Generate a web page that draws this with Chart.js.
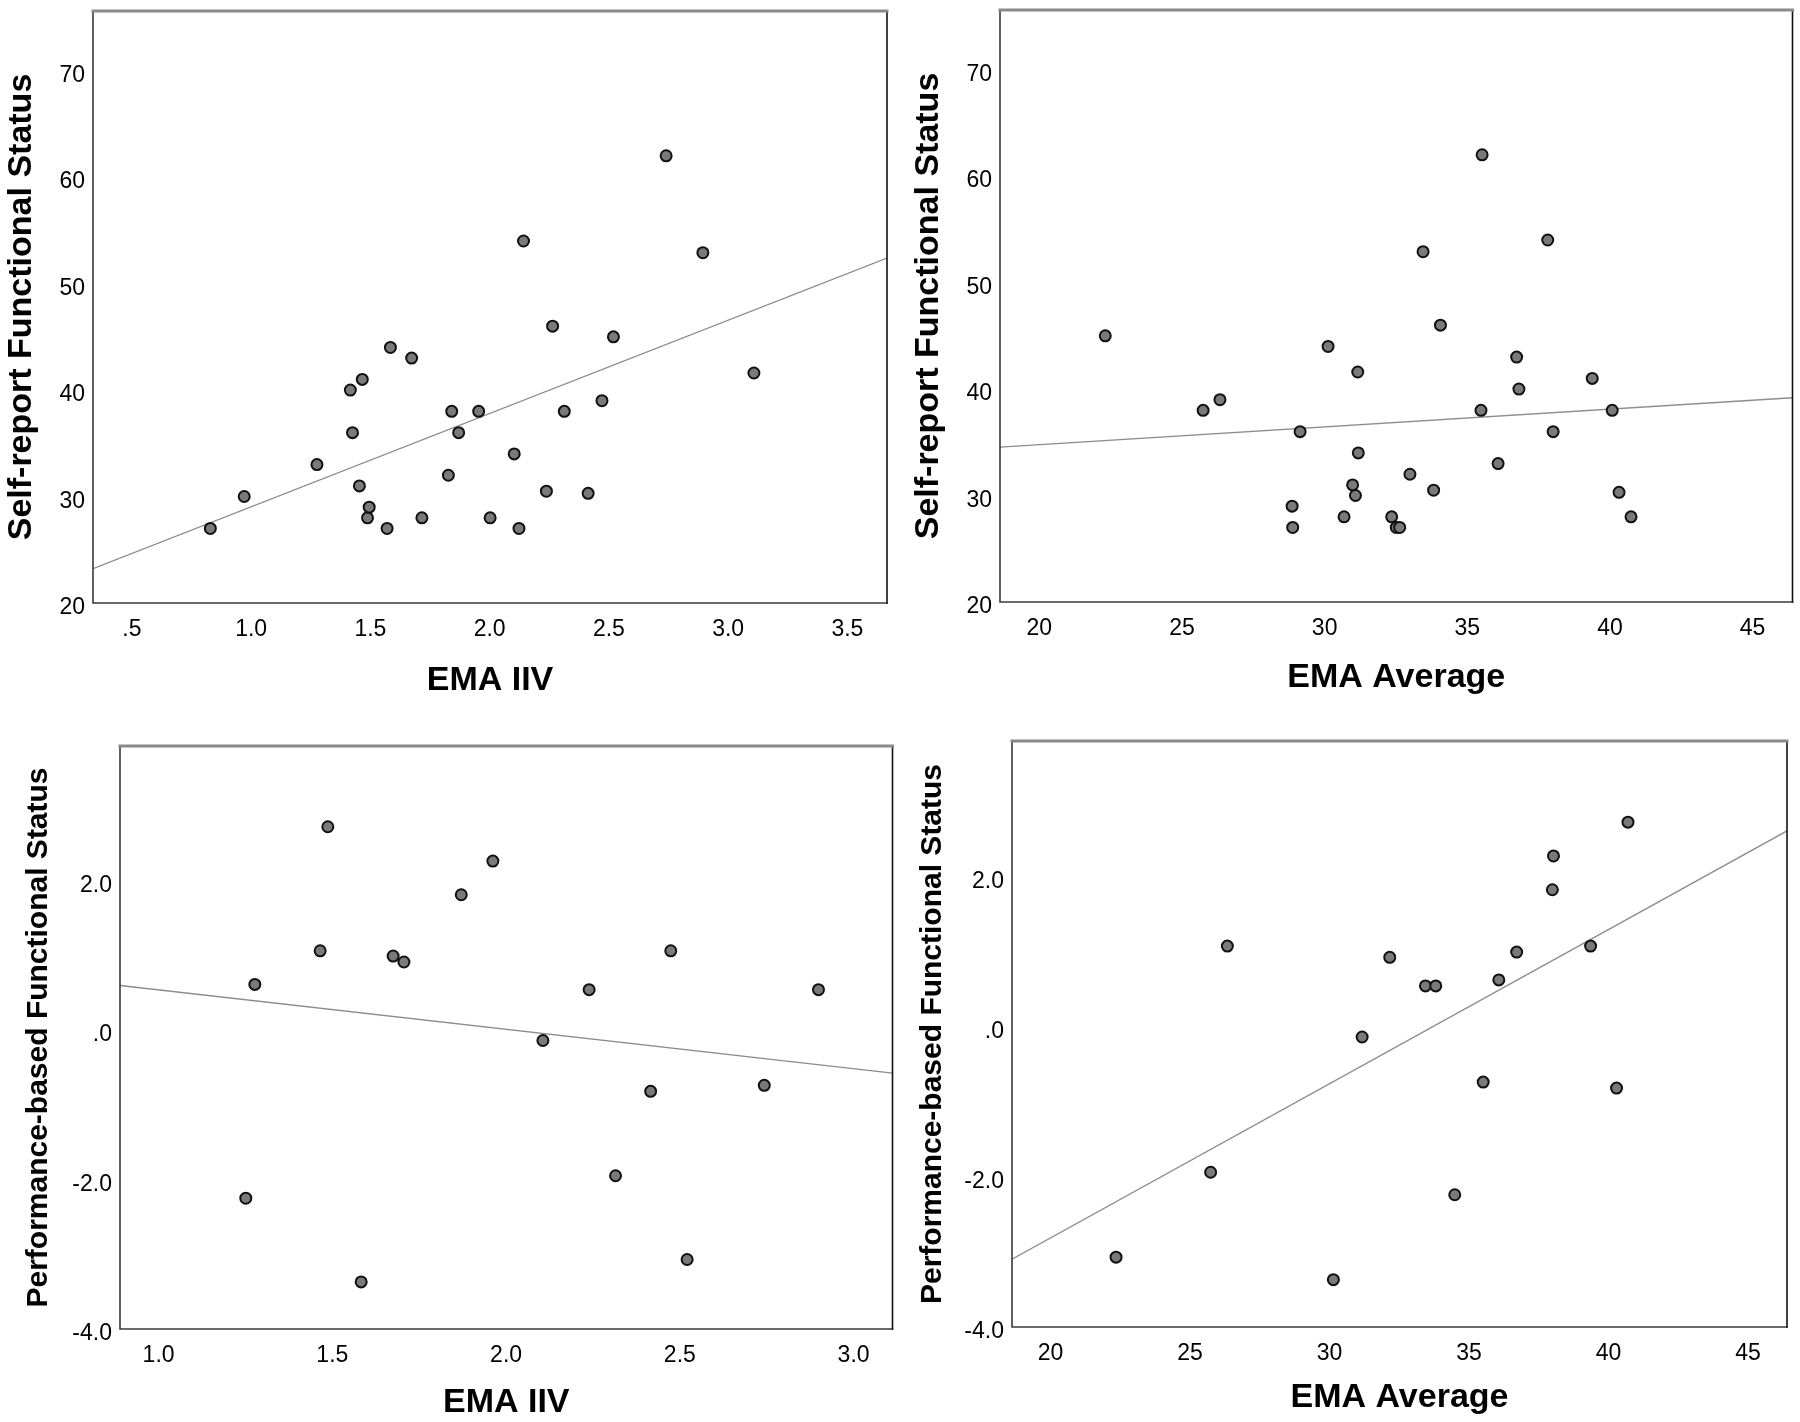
<!DOCTYPE html>
<html>
<head>
<meta charset="utf-8">
<script src="https://cdn.jsdelivr.net/npm/chart.js@4.4.1/dist/chart.umd.min.js"></script>
<style>
  html, body { margin: 0; padding: 0; background: #fff; }
  body { width: 1800px; height: 1422px; position: relative; overflow: hidden; }
  .panel { position: absolute; }
</style>
</head>
<body>
<div class="panel" style="left:0;top:0;width:900px;height:711px"><canvas id="c1"></canvas></div>
<div class="panel" style="left:900px;top:0;width:900px;height:711px"><canvas id="c2"></canvas></div>
<div class="panel" style="left:0;top:720px;width:900px;height:702px"><canvas id="c3"></canvas></div>
<div class="panel" style="left:900px;top:720px;width:900px;height:702px"><canvas id="c4"></canvas></div>
<script>
// panel 1: EMA IIV vs self-report (n = 30)
const emaIivA = [0.829, 0.971, 1.276, 1.416, 1.425, 1.454, 1.466, 1.488, 1.495, 1.570,
                 1.584, 1.673, 1.716, 1.827, 1.841, 1.870, 1.954, 2.002, 2.103, 2.123,
                 2.142, 2.238, 2.264, 2.313, 2.413, 2.471, 2.519, 2.740, 2.894, 3.108];
const selfReportA = [27, 30, 33, 40, 36, 31, 41, 28, 29, 27,
                     44, 43, 28, 32, 38, 36, 38, 28, 34, 27,
                     54, 30.5, 46, 38, 30.3, 39, 45, 62, 52.9, 41.6];

// panel 2: EMA average vs self-report
const emaAvgB = [22.31, 25.74, 26.33, 28.86, 28.88, 29.14, 30.12, 30.68, 30.98, 31.08,
                 31.16, 31.18, 32.35, 32.51, 32.63, 32.99, 33.45, 33.82, 34.06, 35.48,
                 35.52, 36.08, 36.73, 36.81, 37.82, 38.01, 39.38, 40.08, 40.32, 40.74];
const selfReportB = [45, 38, 39, 29, 27, 36, 44, 28, 31, 30,
                     41.6, 34, 28, 27, 27, 32, 52.9, 30.5, 46, 38,
                     62, 33, 43, 40, 54, 36, 41, 38, 30.3, 28];

// panel 3: EMA IIV vs performance-based (n = 17)
const emaIivC = [1.251, 1.277, 1.465, 1.487, 1.583, 1.675, 1.706, 1.871, 1.962,
                 2.106, 2.239, 2.315, 2.416, 2.474, 2.521, 2.743, 2.899];
const performanceC = [-2.25, 0.61, 1.06, 2.72, -3.37, 0.99, 0.91, 1.81, 2.26,
                      -0.14, 0.54, -1.95, -0.82, 1.06, -3.07, -0.74, 0.54];

// panel 4: EMA average vs performance-based
const emaAvgD = [22.35, 25.74, 26.34, 30.14, 31.17, 32.16, 33.44, 33.81, 34.49,
                 35.51, 36.07, 36.71, 37.99, 38.03, 39.36, 40.29, 40.70];
const performanceD = [-3.07, -1.94, 1.07, -3.37, -0.14, 0.92, 0.54, 0.54, -2.24,
                      -0.74, 0.62, 0.99, 1.82, 2.27, 1.07, -0.82, 2.72];

// tick values
const ticksIivTop = [0.5, 1.0, 1.5, 2.0, 2.5, 3.0, 3.5];
const ticksIivBottom = [1.0, 1.5, 2.0, 2.5, 3.0];
const ticksAvg = [20, 25, 30, 35, 40, 45];
const ticksSelf = [20, 30, 40, 50, 60, 70];
const ticksPerf = [-4, -2, 0, 2];

const FONT = "'Liberation Sans', Arial, sans-serif";

// SPSS style: 1 decimal, no leading zero (".5", ".0")
function spssLabel(v, dec) {
    let s = Number(v).toFixed(dec);
    return s.replace(/^(-?)0\./, '$1.');
}

function fitLine(xs, ys) {
    const n = xs.length;
    const mx = xs.reduce((a, b) => a + b, 0) / n;
    const my = ys.reduce((a, b) => a + b, 0) / n;
    let sxy = 0, sxx = 0;
    for (let i = 0; i < n; i++) {
        sxy += (xs[i] - mx) * (ys[i] - my);
        sxx += (xs[i] - mx) * (xs[i] - mx);
    }
    const b = sxy / sxx;
    return { a: my - b * mx, b: b };
}

// plot frame (top gray, others dark)
const framePlugin = {
    id: 'frame',
    afterDatasetsDraw(chart) {
        const { ctx, chartArea: { left, top, right, bottom } } = chart;
        ctx.save();
        ctx.lineCap = 'square';
        ctx.strokeStyle = '#3a3a3a';
        ctx.lineWidth = 1.6;
        ctx.beginPath();
        ctx.moveTo(left, top);
        ctx.lineTo(left, bottom);
        ctx.lineTo(right, bottom);
        ctx.stroke();
        ctx.strokeStyle = '#111';
        ctx.beginPath();
        ctx.moveTo(right, top);
        ctx.lineTo(right, bottom);
        ctx.stroke();
        ctx.strokeStyle = '#8a8a8a';
        ctx.lineWidth = 3;
        ctx.beginPath();
        ctx.moveTo(left, top);
        ctx.lineTo(right, top);
        ctx.stroke();
        ctx.restore();
    }
};

function noPad(axis) {
    axis.paddingTop = 0;
    axis.paddingBottom = 0;
    axis.paddingLeft = 0;
    axis.paddingRight = 0;
}

function makePanel(p) {
    const fit = fitLine(p.xs, p.ys);
    const points = p.xs.map((x, i) => ({ x: x, y: p.ys[i] }));
    const line = [p.xMin, p.xMax].map(x => ({ x: x, y: fit.a + fit.b * x }));
    const box = p.box; // plot area inside the canvas

    new Chart(document.getElementById(p.id), {
        type: 'scatter',
        data: {
            datasets: [{
                data: points,
                order: 1,
                pointRadius: 5.5,
                pointHoverRadius: 5.5,
                pointBackgroundColor: '#7a7a7a',
                pointBorderColor: '#111',
                pointBorderWidth: 2
            }, {
                type: 'line',
                data: line,
                order: 2,
                showLine: true,
                pointRadius: 0,
                borderColor: '#8c8c8c',
                borderWidth: 1.3,
                fill: false
            }]
        },
        options: {
            responsive: true,
            maintainAspectRatio: false,
            animation: false,
            layout: { padding: { left: 0, top: box.t, right: p.w - box.r, bottom: 0 } },
            plugins: { legend: { display: false }, tooltip: { enabled: false } },
            scales: {
                x: {
                    type: 'linear',
                    min: p.xMin,
                    max: p.xMax,
                    grid: { display: false, drawTicks: false },
                    border: { display: false },
                    afterBuildTicks: axis => { axis.ticks = p.xTicks.map(v => ({ value: v })); },
                    afterFit: axis => { axis.height = p.h - box.b; noPad(axis); },
                    ticks: {
                        padding: 13,
                        color: '#000',
                        font: { family: FONT, size: 23 },
                        maxRotation: 0,
                        autoSkip: false,
                        callback: v => p.xDec === 0 ? String(v) : spssLabel(v, p.xDec)
                    },
                    title: {
                        display: true,
                        text: p.xTitle,
                        color: '#000',
                        font: { family: FONT, size: 34, weight: 'bold', lineHeight: 1.2 },
                        padding: { top: 0, bottom: p.h - p.xTitleY - 34 * 0.6 }
                    }
                },
                y: {
                    type: 'linear',
                    min: p.yMin,
                    max: p.yMax,
                    grid: { display: false, drawTicks: false },
                    border: { display: false },
                    afterBuildTicks: axis => { axis.ticks = p.yTicks.map(v => ({ value: v })); },
                    afterFit: axis => { axis.width = box.l; noPad(axis); },
                    ticks: {
                        padding: 8,
                        labelOffset: 5,
                        color: '#000',
                        font: { family: FONT, size: 23 },
                        autoSkip: false,
                        callback: v => p.yDec === 0 ? String(v) : spssLabel(v, p.yDec)
                    },
                    title: {
                        display: true,
                        text: p.yTitle,
                        color: '#000',
                        font: { family: FONT, size: p.yTitleSize, weight: 'bold', lineHeight: 1.2 },
                        padding: { top: p.yTitleX - p.yTitleSize * 0.6, bottom: 0 }
                    }
                }
            }
        },
        plugins: [framePlugin]
    });
}

makePanel({
    id: 'c1', w: 900, h: 711, box: { l: 93, t: 11, r: 887, b: 603 },
    xs: emaIivA, ys: selfReportA,
    xMin: 0.337, xMax: 3.666, xTicks: ticksIivTop, xDec: 1,
    yMin: 20, yMax: 75.6, yTicks: ticksSelf, yDec: 0,
    xTitle: 'EMA IIV', xTitleY: 681,
    yTitle: 'Self-report Functional Status', yTitleSize: 34, yTitleX: 22
});

makePanel({
    id: 'c2', w: 900, h: 711, box: { l: 100, t: 10, r: 894, b: 602 },
    xs: emaAvgB, ys: selfReportB,
    xMin: 18.62, xMax: 46.4, xTicks: ticksAvg, xDec: 0,
    yMin: 20, yMax: 75.6, yTicks: ticksSelf, yDec: 0,
    xTitle: 'EMA Average', xTitleY: 678,
    yTitle: 'Self-report Functional Status', yTitleSize: 34, yTitleX: 29
});

makePanel({
    id: 'c3', w: 900, h: 702, box: { l: 120, t: 26, r: 893, b: 609 },
    xs: emaIivC, ys: performanceC,
    xMin: 0.889, xMax: 3.112, xTicks: ticksIivBottom, xDec: 1,
    yMin: -4, yMax: 3.8, yTicks: ticksPerf, yDec: 1,
    xTitle: 'EMA IIV', xTitleY: 683,
    yTitle: 'Performance-based Functional Status', yTitleSize: 30, yTitleX: 39
});

makePanel({
    id: 'c4', w: 900, h: 702, box: { l: 112, t: 21, r: 887, b: 607 },
    xs: emaAvgD, ys: performanceD,
    xMin: 18.62, xMax: 46.4, xTicks: ticksAvg, xDec: 0,
    yMin: -4, yMax: 3.8, yTicks: ticksPerf, yDec: 1,
    xTitle: 'EMA Average', xTitleY: 678,
    yTitle: 'Performance-based Functional Status', yTitleSize: 30, yTitleX: 33
});
</script>
</body>
</html>
